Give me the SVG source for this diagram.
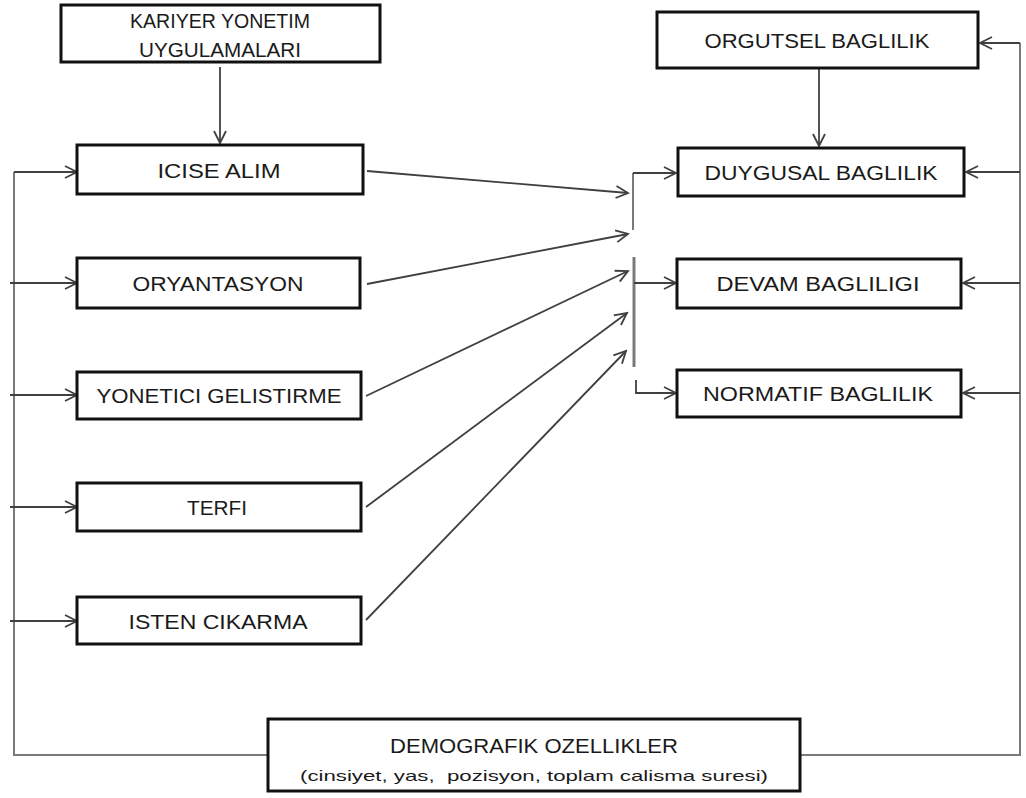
<svg xmlns="http://www.w3.org/2000/svg" width="1026" height="798" viewBox="0 0 1026 798">
<style>
.box{fill:#fff;stroke:#111;stroke-width:3}
.t{font-family:"Liberation Sans",Arial,sans-serif;font-size:20px;fill:#1a1a1a;text-anchor:middle}
.s{font-family:"Liberation Sans",Arial,sans-serif;font-size:15px;fill:#1a1a1a;text-anchor:middle}
.c{fill:none;stroke:#404040;stroke-width:1.8}
.g{fill:none;stroke:#7a7a7a;stroke-width:2}
.gt{fill:none;stroke:#7a7a7a;stroke-width:3}
</style>
<defs>
<marker id="ah" markerUnits="userSpaceOnUse" markerWidth="16" markerHeight="16" viewBox="0 0 16 16" refX="13" refY="8" orient="auto">
<path d="M1,2 L13,8 L1,14" fill="none" stroke="#404040" stroke-width="1.8"/>
</marker>
</defs>
<rect width="1026" height="798" fill="#fff"/>
<g id="connectors">
<path class="g" d="M268,755 H14 V172"/>
<path class="c" d="M14,172 H77" marker-end="url(#ah)"/>
<path class="c" d="M10,283 H77" marker-end="url(#ah)"/>
<path class="c" d="M10,395 H77" marker-end="url(#ah)"/>
<path class="c" d="M10,507 H77" marker-end="url(#ah)"/>
<path class="c" d="M10,621 H77" marker-end="url(#ah)"/>
<path class="g" d="M800,755 H1020 V43"/>
<path class="c" d="M1020,43 H980" marker-end="url(#ah)"/>
<path class="c" d="M1020,172 H966" marker-end="url(#ah)"/>
<path class="c" d="M1020,283 H963" marker-end="url(#ah)"/>
<path class="c" d="M1020,393 H963" marker-end="url(#ah)"/>
<path class="c" d="M220,67 V143" marker-end="url(#ah)"/>
<path class="c" d="M819,68 V146" marker-end="url(#ah)"/>
<path class="c" d="M367,171 L628,193" marker-end="url(#ah)"/>
<path class="c" d="M367,284 L628,234" marker-end="url(#ah)"/>
<path class="c" d="M366,396 L628,271" marker-end="url(#ah)"/>
<path class="c" d="M366,507 L627,313" marker-end="url(#ah)"/>
<path class="c" d="M366,620 L626,351" marker-end="url(#ah)"/>
<path class="g" d="M633,230 V173"/>
<path class="c" d="M633,173 H676" marker-end="url(#ah)"/>
<path class="gt" d="M634,257 V367"/>
<path class="c" d="M634,283 H676" marker-end="url(#ah)"/>
<path class="c" d="M636,380 V393 H676" marker-end="url(#ah)"/>
</g>
<g id="n-kariyer">
<rect class="box" x="61" y="5" width="319" height="57"/>
<text class="t" x="220" y="28" font-size="17" textLength="180" lengthAdjust="spacingAndGlyphs">KARIYER YONETIM</text>
<text class="t" x="220" y="57" font-size="17" textLength="162" lengthAdjust="spacingAndGlyphs">UYGULAMALARI</text>
</g>
<g id="n-icise">
<rect class="box" x="77" y="145" width="286" height="49"/>
<text class="t" x="219" y="178" textLength="123" lengthAdjust="spacingAndGlyphs">ICISE ALIM</text>
</g>
<g id="n-oryantasyon">
<rect class="box" x="77" y="258" width="283" height="50"/>
<text class="t" x="218" y="291" textLength="171" lengthAdjust="spacingAndGlyphs">ORYANTASYON</text>
</g>
<g id="n-yonetici">
<rect class="box" x="77" y="372" width="284" height="47"/>
<text class="t" x="219" y="403" textLength="245" lengthAdjust="spacingAndGlyphs">YONETICI GELISTIRME</text>
</g>
<g id="n-terfi">
<rect class="box" x="77" y="483" width="284" height="48"/>
<text class="t" x="217" y="515" textLength="60" lengthAdjust="spacingAndGlyphs">TERFI</text>
</g>
<g id="n-isten">
<rect class="box" x="77" y="597" width="284" height="47"/>
<text class="t" x="218" y="629" textLength="179" lengthAdjust="spacingAndGlyphs">ISTEN CIKARMA</text>
</g>
<g id="n-orgutsel">
<rect class="box" x="657" y="12" width="321" height="56"/>
<text class="t" x="817" y="48" textLength="225" lengthAdjust="spacingAndGlyphs">ORGUTSEL BAGLILIK</text>
</g>
<g id="n-duygusal">
<rect class="box" x="678" y="148" width="286" height="48"/>
<text class="t" x="821" y="180" textLength="233" lengthAdjust="spacingAndGlyphs">DUYGUSAL BAGLILIK</text>
</g>
<g id="n-devam">
<rect class="box" x="677" y="259" width="284" height="49"/>
<text class="t" x="818" y="291" textLength="203" lengthAdjust="spacingAndGlyphs">DEVAM BAGLILIGI</text>
</g>
<g id="n-normatif">
<rect class="box" x="677" y="370" width="284" height="47"/>
<text class="t" x="818" y="401" textLength="230" lengthAdjust="spacingAndGlyphs">NORMATIF BAGLILIK</text>
</g>
<g id="n-demografik">
<rect class="box" x="268" y="719" width="532" height="72"/>
<text class="t" x="534" y="753" font-size="18" textLength="288" lengthAdjust="spacingAndGlyphs">DEMOGRAFIK OZELLIKLER</text>
<text class="s" x="534" y="781" textLength="468" lengthAdjust="spacingAndGlyphs" xml:space="preserve">(cinsiyet, yas,  pozisyon, toplam calisma suresi)</text>
</g>
</svg>
